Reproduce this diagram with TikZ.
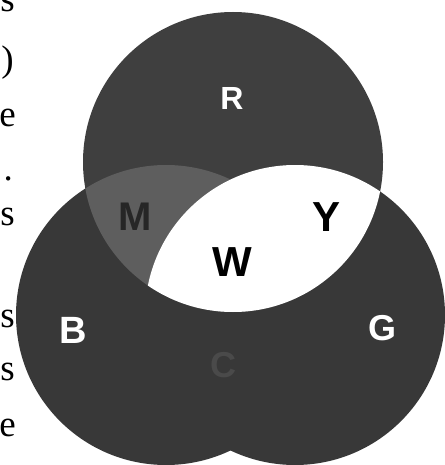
\documentclass[tikz,border=0pt]{standalone}
\usepackage{fontspec}
\setmainfont{Liberation Sans}
\newfontfamily\pagefont{Liberation Serif}
\definecolor{dk}{HTML}{383838}
\definecolor{dkr}{HTML}{3F3F3F}
\definecolor{mg}{HTML}{5E5E5E}
\definecolor{cy}{HTML}{4A4A4A}

\begin{document}
\begin{tikzpicture}[x=1pt,y=-1pt,
  lt/.style={font=\bfseries\fontsize{#1}{#1}\selectfont,inner sep=0pt},
  pg/.style={font=\pagefont\fontsize{37}{37}\selectfont,anchor=base east,inner sep=0pt}]
\useasboundingbox[fill=white] (0,0) rectangle (444,465);
% circle centres
\coordinate (r) at (233,162);
\coordinate (b) at (166,315);
\coordinate (g) at (295,315);
\fill[dk] (b) circle (150);
\fill[dk] (g) circle (150);
\fill[dkr] (r) circle (150);
\begin{scope}
\clip (r) circle (150);
\fill[mg] (b) circle (150);
\fill[white] (g) circle (150);
\end{scope}
% labels
\node[lt=32,text=white] (R) at (232,98) {R};
\node[lt=40,text=black!85] (M) at (135,217) {M};
\node[lt=42] (Y) at (327,217) {Y};
\node[lt=42] (W) at (232,262) {W};
\node[lt=38,text=white] (B) at (73,330) {B};
\node[lt=36,text=white] (G) at (382,328) {G};
\node[lt=36,text=cy] (C) at (223,365) {C};
% cut-off page text on the left
\node[pg] (t1) at (15,12) {s};
\node[pg] (t2) at (14,72) {)};
\node[pg] (t3) at (16,127) {e};
\node[pg] (t4) at (13,180) {.};
\node[pg] (t5) at (15,225) {s};
\node[pg] (t6) at (15,327) {s};
\node[pg] (t7) at (15,380) {s};
\node[pg] (t8) at (16,436) {e};
\end{tikzpicture}
\end{document}
